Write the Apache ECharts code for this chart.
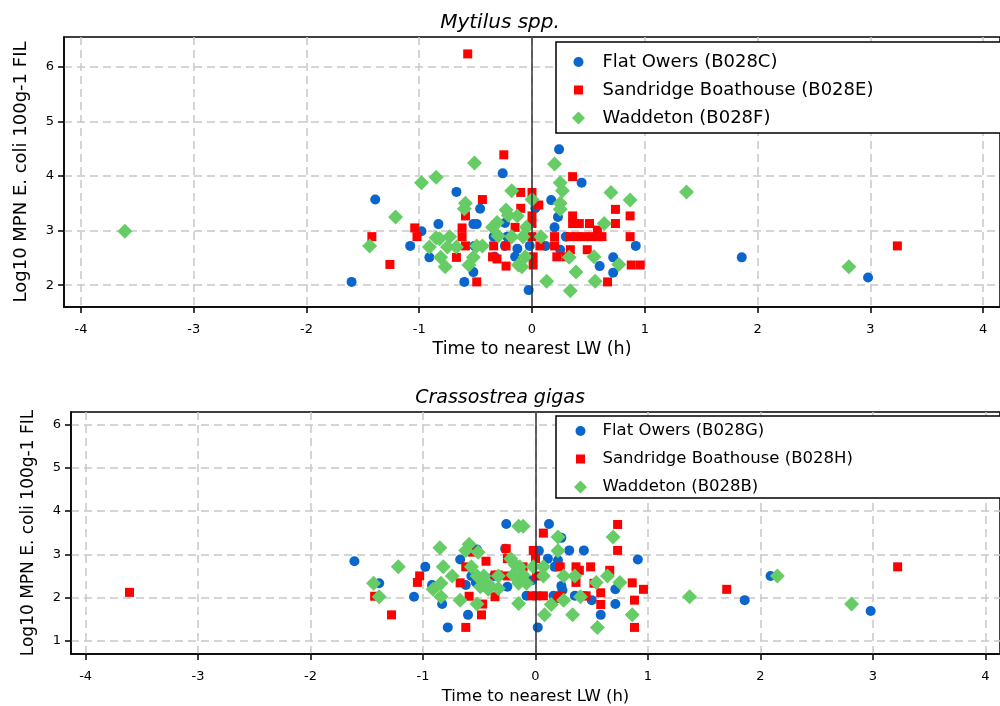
<!DOCTYPE html>
<html>
<head>
<meta charset="utf-8">
<script src="https://cdn.jsdelivr.net/npm/echarts@6/dist/echarts.min.js"></script>
<style>
  html, body { margin: 0; padding: 0; background: #fff; }
  #chart { width: 1000px; height: 706px; }
</style>
</head>
<body>
<div id="chart"></div>
<script>
// Tick positions
const xTicks = [-4, -3, -2, -1, 0, 1, 2, 3, 4];
const yTicksTop = [2, 3, 4, 5, 6];
const yTicksBottom = [1, 2, 3, 4, 5, 6];

// Panel titles and series names
const titleTop = 'Mytilus spp.';
const titleBottom = 'Crassostrea gigas';
const namesTop = ['Flat Owers (B028C)', 'Sandridge Boathouse (B028E)', 'Waddeton (B028F)'];
const namesBottom = ['Flat Owers (B028G)', 'Sandridge Boathouse (B028H)', 'Waddeton (B028B)'];

// Mytilus spp. — [hours from low water, log10 MPN]
const musselFlatOwers = [
  [-1.60,2.06],[-1.39,3.57],[-1.08,2.72],[-0.98,2.99],[-0.91,2.51],[-0.83,3.12],[-0.67,3.71],
  [-0.60,2.06],[-0.52,2.24],[-0.52,3.12],[-0.49,3.12],[-0.46,3.40],[-0.51,2.72],[-0.34,2.89],
  [-0.33,2.52],[-0.26,4.05],[-0.24,3.14],[-0.24,2.72],[-0.22,2.89],[-0.15,2.52],[-0.13,2.67],
  [-0.02,2.72],[-0.03,1.91],[0.03,3.41],[0.12,2.72],[0.17,3.56],[0.20,3.06],[0.23,3.25],
  [0.24,4.49],[0.25,2.65],[0.30,2.89],[0.44,3.88],[0.60,2.35],[0.72,2.51],[0.72,2.23],
  [0.92,2.72],[1.86,2.51],[2.98,2.14]
];
const musselSandridge = [
  [-1.42,2.89],[-1.26,2.38],[-1.04,3.05],[-1.02,2.89],[-0.67,2.51],[-0.62,3.05],[-0.62,2.89],
  [-0.59,2.72],[-0.59,3.27],[-0.57,6.24],[-0.49,2.06],[-0.44,3.57],[-0.34,2.72],[-0.35,2.52],
  [-0.31,2.48],[-0.25,4.39],[-0.23,2.72],[-0.23,2.35],[-0.15,3.06],[-0.10,3.70],[-0.10,3.41],
  [0.00,3.70],[0.00,3.27],[0.00,3.13],[0.00,2.89],[0.01,2.52],[0.01,2.37],[0.06,3.47],
  [0.07,2.72],[0.20,2.89],[0.20,2.72],[0.22,2.52],[0.30,2.52],[0.34,2.65],[0.36,3.99],
  [0.36,3.27],[0.36,3.13],[0.42,3.13],[0.34,2.89],[0.40,2.89],[0.46,2.89],[0.53,2.89],
  [0.58,2.89],[0.62,2.89],[0.58,3.01],[0.49,2.65],[0.51,3.13],[0.67,2.06],[0.74,3.39],
  [0.74,3.13],[0.87,3.27],[0.87,2.89],[0.88,2.37],[0.96,2.37],[3.24,2.72]
];
const musselWaddeton = [
  [-3.61,2.99],[-1.44,2.72],[-1.21,3.25],[-0.98,3.88],[-0.85,3.98],[-0.91,2.70],[-0.85,2.87],
  [-0.82,2.85],[-0.81,2.51],[-0.77,2.34],[-0.73,2.89],[-0.75,2.70],[-0.67,2.70],[-0.60,3.40],
  [-0.59,3.50],[-0.51,4.24],[-0.56,2.37],[-0.52,2.51],[-0.49,2.72],[-0.44,2.72],[-0.35,3.06],
  [-0.31,3.15],[-0.30,2.90],[-0.23,3.38],[-0.21,3.28],[-0.18,3.73],[-0.18,2.89],[-0.13,3.27],
  [-0.08,2.89],[-0.05,3.06],[-0.06,2.52],[-0.12,2.37],[-0.09,2.34],[0.00,3.57],[0.08,2.89],
  [0.13,2.07],[0.20,4.22],[0.25,3.88],[0.27,3.73],[0.25,3.50],[0.25,3.39],[0.33,2.51],
  [0.39,2.24],[0.34,1.90],[0.55,2.52],[0.56,2.07],[0.64,3.13],[0.70,3.70],[0.77,2.38],
  [0.87,3.56],[1.37,3.71],[2.81,2.34]
];

// Crassostrea gigas — [hours from low water, log10 MPN]
const oysterFlatOwers = [
  [-1.61,2.84],[-1.39,2.33],[-1.08,2.02],[-0.98,2.71],[-0.92,2.29],[-0.83,1.85],[-0.78,1.31],
  [-0.67,2.88],[-0.62,2.29],[-0.60,1.60],[-0.57,2.50],[-0.53,2.35],[-0.52,3.11],[-0.37,2.50],
  [-0.27,3.13],[-0.26,3.70],[-0.25,2.25],[-0.08,2.04],[-0.03,2.40],[0.02,1.31],[0.03,3.08],
  [0.11,2.90],[0.12,3.70],[0.16,2.04],[0.17,2.71],[0.20,2.86],[0.23,3.38],[0.23,2.27],
  [0.24,2.17],[0.30,3.09],[0.35,2.04],[0.43,3.09],[0.50,1.94],[0.58,1.60],[0.71,2.19],
  [0.71,1.85],[0.91,2.88],[1.86,1.94],[2.09,2.50],[2.98,1.69]
];
const oysterSandridge = [
  [-3.61,2.12],[-1.43,2.03],[-1.28,1.60],[-1.05,2.35],[-1.03,2.50],[-0.67,2.34],[-0.62,2.71],
  [-0.62,1.31],[-0.59,2.03],[-0.56,3.05],[-0.47,1.85],[-0.48,1.60],[-0.44,2.84],[-0.36,2.52],
  [-0.33,2.52],[-0.36,2.02],[-0.26,3.13],[-0.25,2.90],[-0.25,2.50],[-0.11,2.71],[-0.02,3.09],
  [0.00,2.90],[0.01,2.50],[-0.03,2.04],[0.01,2.04],[0.07,2.04],[0.07,3.49],[0.22,2.71],
  [0.22,2.04],[0.20,1.98],[0.36,2.71],[0.39,2.63],[0.36,2.35],[0.42,2.04],[0.45,2.04],
  [0.49,2.71],[0.52,2.33],[0.58,2.11],[0.58,1.84],[0.66,2.63],[0.73,3.69],[0.73,3.09],
  [0.86,2.34],[0.88,1.94],[0.88,1.31],[0.96,2.19],[1.70,2.19],[3.22,2.71]
];
const oysterWaddeton = [
  [-1.44,2.33],[-1.39,2.02],[-1.22,2.71],[-0.91,2.19],[-0.85,3.15],[-0.82,2.71],[-0.84,2.33],
  [-0.84,2.02],[-0.74,2.50],[-0.67,1.94],[-0.59,3.23],[-0.62,3.09],[-0.51,3.05],[-0.57,2.71],
  [-0.52,2.50],[-0.46,2.50],[-0.49,2.25],[-0.44,2.33],[-0.42,2.19],[-0.52,1.85],[-0.33,2.50],
  [-0.33,2.21],[-0.40,2.27],[-0.22,2.90],[-0.18,2.75],[-0.14,2.71],[-0.20,2.52],[-0.11,2.52],
  [-0.08,2.33],[-0.15,2.33],[-0.15,1.86],[-0.15,3.65],[-0.11,3.65],[-0.02,2.71],[0.07,2.71],
  [0.07,2.50],[0.08,1.60],[0.14,1.84],[0.20,3.40],[0.20,3.08],[0.25,2.50],[0.25,1.94],
  [0.33,1.60],[0.35,2.50],[0.40,2.02],[0.54,2.35],[0.55,1.31],[0.64,2.50],[0.69,3.40],
  [0.75,2.35],[0.86,1.60],[1.37,2.02],[2.15,2.50],[2.81,1.85]
];

const FONT = 'DejaVu Sans';
const BLUE = '#0a66cc';
const RED = '#ff0000';
const GREEN = '#66cc66';
// Legend icons share a 13x13 box: circle and square are inset, the diamond fills it
const ICON_CIRCLE = 'path://M-1.5,-1.5L-1.5,-1.5M11.5,11.5L11.5,11.5M0,5A5,5 0 1,0 10,5A5,5 0 1,0 0,5Z';
const ICON_SQUARE = 'path://M-1.5,-1.5L-1.5,-1.5M11.5,11.5L11.5,11.5M0.5,0.5H9.5V9.5H0.5Z';
const ICON_DIAMOND = 'path://M5,-1.5L11.5,5L5,11.5L-1.5,5Z';

function xAxisFor(gridIndex, nameSize, nameGap) {
  return {
    type: 'value', gridIndex: gridIndex,
    min: gridIndex === 0 ? -4.15 : -4.13,
    max: gridIndex === 0 ? 4.15 : 4.13,
    name: 'Time to nearest LW (h)', nameLocation: 'middle', nameGap: nameGap,
    nameTextStyle: { fontFamily: FONT, fontSize: nameSize, color: '#000' },
    axisLine: { show: true, onZero: false, lineStyle: { color: '#000', width: 1.5 } },
    axisTick: { show: true, length: 6, customValues: xTicks, lineStyle: { color: '#000', width: 1.5 } },
    axisLabel: { customValues: xTicks, margin: 16, fontFamily: FONT, fontSize: 13, color: '#000',
                 showMinLabel: true, showMaxLabel: true },
    splitLine: { show: true, lineStyle: { color: '#c8c8c8', width: 1.5, type: [8, 5] } }
  };
}
function yAxisFor(gridIndex, ticks, min, max, nameSize, nameGap) {
  return {
    type: 'value', gridIndex: gridIndex, min: min, max: max,
    name: 'Log10 MPN E. coli 100g-1 FIL', nameLocation: 'middle', nameGap: nameGap,
    nameTextStyle: { fontFamily: FONT, fontSize: nameSize, color: '#000' },
    axisLine: { show: true, onZero: false, lineStyle: { color: '#000', width: 1.5 } },
    axisTick: { show: true, length: 6, customValues: ticks, lineStyle: { color: '#000', width: 1.5 } },
    axisLabel: { customValues: ticks, margin: 10, fontFamily: FONT, fontSize: 13, color: '#000' },
    splitLine: { show: true, lineStyle: { color: '#c8c8c8', width: 1.5, type: [8, 5] } }
  };
}
function scatter(name, data, axisIndex, symbol, size, color) {
  return {
    type: 'scatter', name: name, data: data,
    xAxisIndex: axisIndex, yAxisIndex: axisIndex,
    symbol: symbol, symbolSize: size, z: 3,
    itemStyle: { color: color, opacity: 1, borderWidth: 0 },
    emphasis: { disabled: true }
  };
}
function zeroLine(axisIndex) {
  return {
    type: 'scatter', data: [], xAxisIndex: axisIndex, yAxisIndex: axisIndex, z: 2,
    markLine: {
      silent: true, symbol: 'none', animation: false,
      label: { show: false },
      lineStyle: { color: '#333', width: 1.5, type: 'solid' },
      data: [{ xAxis: 0 }]
    }
  };
}
function legendFor(names, top, fontSize, padding, itemWidth) {
  return {
    orient: 'vertical', left: 556, top: top,
    padding: padding, itemGap: 6, itemWidth: itemWidth, itemHeight: 13,
    borderColor: '#000', borderWidth: 1.5, borderRadius: 0, backgroundColor: '#fff',
    selectedMode: false,
    itemStyle: { borderWidth: 0 },
    textStyle: { fontFamily: FONT, fontSize: fontSize, color: '#000', lineHeight: 22 },
    data: [
      { name: names[0], icon: ICON_CIRCLE },
      { name: names[1], icon: ICON_SQUARE },
      { name: names[2], icon: ICON_DIAMOND }
    ]
  };
}

const option = {
  animation: false,
  backgroundColor: '#fff',
  title: [
    { text: titleTop, left: 'center', top: 8,
      textStyle: { fontFamily: FONT, fontSize: 20, fontStyle: 'italic', fontWeight: 'normal', color: '#000' } },
    { text: titleBottom, left: 'center', top: 384,
      textStyle: { fontFamily: FONT, fontSize: 19, fontStyle: 'italic', fontWeight: 'normal', color: '#000' } }
  ],
  legend: [
    legendFor(namesTop, 42, 18, [9, 320, 4, 16], 38),
    legendFor(namesBottom, 416, 16.5, [4, 320, 0, 18], 34)
  ],
  grid: [
    { left: 64, top: 37, right: -10, height: 270, show: true, borderColor: '#000', borderWidth: 1.5, backgroundColor: 'transparent' },
    { left: 71, top: 412, right: -8.5, height: 244, show: true, borderColor: '#000', borderWidth: 1.5, backgroundColor: 'transparent' }
  ],
  xAxis: [ xAxisFor(0, 17.5, 33), xAxisFor(1, 16.5, 34) ],
  yAxis: [
    yAxisFor(0, yTicksTop, 1.6, 6.55, 18, 34),
    yAxisFor(1, yTicksBottom, 0.695, 6.29, 17, 34)
  ],
  series: [
    zeroLine(0),
    scatter(namesTop[0], musselFlatOwers, 0, 'circle', 10, BLUE),
    scatter(namesTop[1], musselSandridge, 0, 'rect', 9, RED),
    scatter(namesTop[2], musselWaddeton, 0, 'diamond', [15, 15], GREEN),
    zeroLine(1),
    scatter(namesBottom[0], oysterFlatOwers, 1, 'circle', 10, BLUE),
    scatter(namesBottom[1], oysterSandridge, 1, 'rect', 9, RED),
    scatter(namesBottom[2], oysterWaddeton, 1, 'diamond', [15, 15], GREEN)
  ]
};

const chart = echarts.init(document.getElementById('chart'), null, { renderer: 'canvas' });
chart.setOption(option);
</script>
</body>
</html>
